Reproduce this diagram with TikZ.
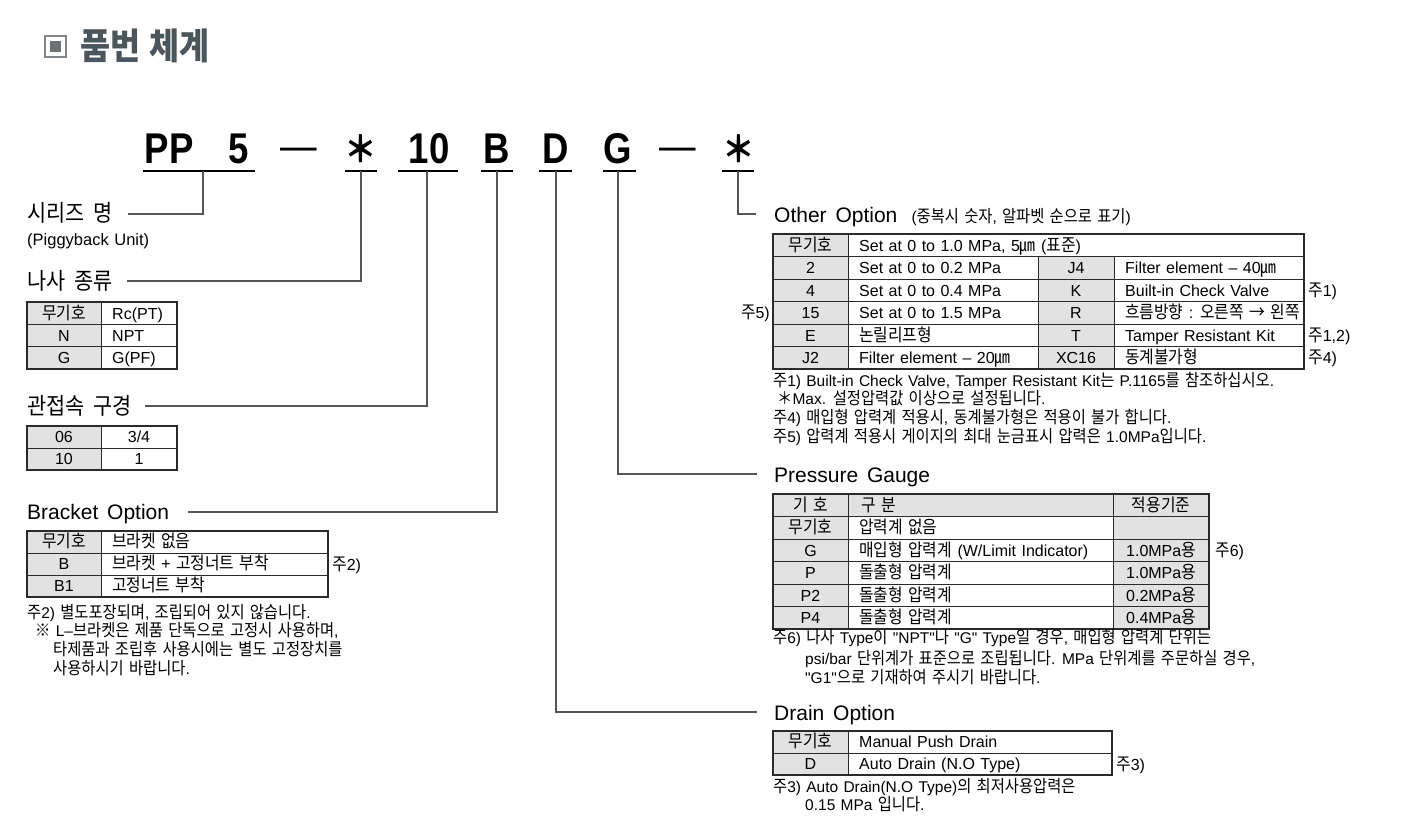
\documentclass[tikz,border=0pt]{standalone}
\usepackage{fontspec}
\setmainfont{Liberation Sans}[Ligatures=TeXOff]
\newfontfamily\lfont{Liberation Sans}[Ligatures=TeXOff]
\newfontfamily\krfont{Noto Sans CJK KR}[Scale=1.1,FakeStretch=0.9]
\newfontfamily\codefont{Liberation Sans}[FakeStretch=0.85]
% automatic switch to the Korean font for Hangul and a few symbols
\XeTeXinterchartokenstate=1
\newXeTeXintercharclass\KRclass
\newcount\krc
\krc="AC00
\loop \XeTeXcharclass\krc=\KRclass \advance\krc by 1 \ifnum\krc<"D7A4 \repeat
\XeTeXcharclass"339B=\KRclass
\XeTeXcharclass"203B=\KRclass
\XeTeXcharclass"2192=\KRclass
\XeTeXcharclass"FF0A=\KRclass
\def\krset#1{\ifnum#1=\KRclass\else
  \XeTeXinterchartoks #1 \KRclass={\krfont}\XeTeXinterchartoks \KRclass #1={\lfont}\fi}
\krset{0}\krset{1}\krset{2}\krset{3}\krset{4095}

% word spaces
\newcommand\spT{\spaceskip 0.34em\relax}
\newcommand\spL{\spaceskip 0.42em\relax}
\newcommand\spN{\spaceskip 0.34em\relax}

\definecolor{cg}{HTML}{E2E2E2}
\definecolor{tbl}{HTML}{2A2A2A}
\definecolor{linegray}{HTML}{555555}
\definecolor{titlegray}{HTML}{4B555C}
\definecolor{icongray}{HTML}{80868A}

\newcommand\cGC[6]{\node[cellg,minimum width={#4-#2},minimum height={#5-#3}] (#1) at ({(#2+#4)/2},{(#3+#5)/2}) {};
  \node[tt] (#1t) at (#1.center) {#6};}
\newcommand\cGL[6]{\node[cellg,minimum width={#4-#2},minimum height={#5-#3}] (#1) at ({(#2+#4)/2},{(#3+#5)/2}) {};
  \node[tt,anchor=west] (#1t) at ([xshift=13pt]#1.west) {#6};}
\newcommand\cWC[6]{\node[cellw,minimum width={#4-#2},minimum height={#5-#3}] (#1) at ({(#2+#4)/2},{(#3+#5)/2}) {};
  \node[tt] (#1t) at (#1.center) {#6};}
\newcommand\cWL[6]{\node[cellw,minimum width={#4-#2},minimum height={#5-#3}] (#1) at ({(#2+#4)/2},{(#3+#5)/2}) {};
  \node[tt,anchor=west] (#1t) at ([xshift=11pt]#1.west) {#6};}

\begin{document}
\begin{tikzpicture}[x=1pt,y=-1pt,
  conn/.style={draw=linegray,line width=1.2pt},
  uline/.style={draw=black,line width=1.3pt},
  cellg/.style={draw=tbl,line width=0.8pt,fill=cg,inner sep=0pt,outer sep=0pt},
  cellw/.style={draw=tbl,line width=0.8pt,fill=white,inner sep=0pt,outer sep=0pt},
  outerb/.style={draw=tbl,line width=1.4pt},
  tt/.style={inner sep=0pt,font=\fontsize{16}{18}\selectfont\spT,text height=11.5pt,text depth=0pt},
  lab/.style={inner sep=0pt,anchor=base west,font=\fontsize{21}{24}\selectfont\spL},
  note/.style={inner sep=0pt,anchor=base west,font=\fontsize{15.5}{18}\selectfont\spN},
  nmk/.style={inner sep=0pt,anchor=base west,font=\fontsize{16}{18}\selectfont},
  code/.style={inner sep=0pt,anchor=base,font=\fontsize{43}{48}\selectfont\codefont\bfseries},
  dashc/.style={inner sep=0pt,anchor=base,font=\fontsize{43}{48}\selectfont\codefont},
  starc/.style={inner sep=0pt,anchor=base,font=\fontsize{33}{40}\selectfont\bfseries}]
\useasboundingbox[fill=white] (0,0) rectangle (1412,830);

% ---------- title ----------
\node[draw=icongray,line width=1.5pt,fill=white,minimum size=21pt,inner sep=0pt] (icon) at (55.5,46.5) {};
\node[fill=icongray!85!black,minimum size=11pt,inner sep=0pt] (iconin) at (icon.center) {};
\node[inner sep=0pt,anchor=base west,font=\fontsize{33}{36}\selectfont\bfseries,text=titlegray] (title) at (80,59) {품번 체계};

% ---------- code row ----------
\node[code] (cPP) at (169,163) {PP};
\node[code] (c5) at (239,163) {5};
\node[dashc] (cDa) at (299,160) {—};
\node[starc] (cS1) at (361,162) {＊};
\node[code] (c10) at (429,163) {10};
\node[code] (cB) at (497,163) {B};
\node[code] (cD) at (556,163) {D};
\node[code] (cG) at (618,163) {G};
\node[dashc] (cDb) at (678,160) {—};
\node[starc] (cS2) at (739,162) {＊};

\coordinate (uPPa) at (143,171); \coordinate (uPPb) at (255,171);
\coordinate (uS1a) at (345,171); \coordinate (uS1b) at (377,171);
\coordinate (u10a) at (398,171); \coordinate (u10b) at (458,171);
\coordinate (uBa) at (481,171); \coordinate (uBb) at (513,171);
\coordinate (uDa) at (539,171); \coordinate (uDb) at (572,171);
\coordinate (uGa) at (603,171); \coordinate (uGb) at (636,171);
\coordinate (uS2a) at (722,171); \coordinate (uS2b) at (754,171);
\foreach \a/\b in {uPPa/uPPb,uS1a/uS1b,u10a/u10b,uBa/uBb,uDa/uDb,uGa/uGb,uS2a/uS2b}
  \draw[uline] (\a) -- (\b);

\coordinate (jPP) at (203,171);
\coordinate (jS1) at (361,171);
\coordinate (j10) at (427,171);
\coordinate (jB) at (497,171);
\coordinate (jD) at (556,171);
\coordinate (jG) at (618,171);
\coordinate (jS2) at (738,171);

% ---------- left labels ----------
\node[lab] (series) at (27,221) {시리즈 명};
\node[note,font=\fontsize{16.5}{19}\selectfont\spN] (piggy) at (27,245.5) {(Piggyback Unit)};
\node[lab] (thread) at (27,289) {나사 종류};
\node[lab] (port) at (27,414) {관접속 구경};
\node[lab] (bracket) at (27,519.5) {Bracket Option};

\coordinate (eSeries) at (128,214);
\coordinate (eThread) at (127,281);
\coordinate (ePort) at (145,406);
\coordinate (eBracket) at (188,512);
\draw[conn] (jPP) |- (eSeries);
\draw[conn] (jS1) |- (eThread);
\draw[conn] (j10) |- (ePort);
\draw[conn] (jB) |- (eBracket);

% ---------- right labels ----------
\node[lab] (other) at (774,222) {Other Option {\fontsize{15.5}{18}\selectfont\spN{} (중복시 숫자, 알파벳 순으로 표기)}};
\node[lab] (gauge) at (774,482) {Pressure Gauge};
\node[lab] (drain) at (774,720) {Drain Option};
\coordinate (eOther) at (756,214);
\coordinate (eGauge) at (757,474);
\coordinate (eDrain) at (757,712);
\draw[conn] (jS2) |- (eOther);
\draw[conn] (jG) |- (eGauge);
\draw[conn] (jD) |- (eDrain);

% ---------- table: thread ----------
\cGC{ta1}{27}{302}{101}{324.5}{무기호}
\cWL{ta2}{101}{302}{177}{324.5}{Rc(PT)}
\cGC{tb1}{27}{324.5}{101}{346.5}{N}
\cWL{tb2}{101}{324.5}{177}{346.5}{NPT}
\cGC{tc1}{27}{346.5}{101}{369}{G}
\cWL{tc2}{101}{346.5}{177}{369}{G(PF)}
\draw[outerb] (27,302) rectangle (177,369);

% ---------- table: port size ----------
\cGC{pa1}{27}{426}{101}{448}{06}
\cWC{pa2}{101}{426}{177}{448}{3/4}
\cGC{pb1}{27}{448}{101}{470}{10}
\cWC{pb2}{101}{448}{177}{470}{1}
\draw[outerb] (27,426) rectangle (177,470);

% ---------- table: bracket ----------
\cGC{ba1}{27}{531}{101}{553}{무기호}
\cWL{ba2}{101}{531}{328}{553}{브라켓 없음}
\cGC{bb1}{27}{553}{101}{575}{B}
\cWL{bb2}{101}{553}{328}{575}{브라켓 + 고정너트 부착}
\cGC{bc1}{27}{575}{101}{597}{B1}
\cWL{bc2}{101}{575}{328}{597}{고정너트 부착}
\draw[outerb] (27,531) rectangle (328,597);
\node[nmk] (n2) at (332,570) {주2)};
\node[note] (bn1) at (27,618.5) {주2) 별도포장되며, 조립되어 있지 않습니다.};
\node[note] (bn2) at (35,636.5) {※ L–브라켓은 제품 단독으로 고정시 사용하며,};
\node[note] (bn3) at (53,655.5) {타제품과 조립후 사용시에는 별도 고정장치를};
\node[note] (bn4) at (53,674.5) {사용하시기 바랍니다.};

% ---------- table: other option ----------
\cGC{oa1}{773}{234}{848}{256.5}{무기호}
\cWL{oa2}{848}{234}{1304}{256.5}{Set at 0 to 1.0 MPa, 5㎛ (표준)}
\cGC{ob1}{773}{256.5}{848}{279}{2}
\cWL{ob2}{848}{256.5}{1038}{279}{Set at 0 to 0.2 MPa}
\cGC{ob3}{1038}{256.5}{1114}{279}{J4}
\cWL{ob4}{1114}{256.5}{1304}{279}{Filter element – 40㎛}
\cGC{oc1}{773}{279}{848}{301.5}{4}
\cWL{oc2}{848}{279}{1038}{301.5}{Set at 0 to 0.4 MPa}
\cGC{oc3}{1038}{279}{1114}{301.5}{K}
\cWL{oc4}{1114}{279}{1304}{301.5}{Built-in Check Valve}
\cGC{od1}{773}{301.5}{848}{324}{15}
\cWL{od2}{848}{301.5}{1038}{324}{Set at 0 to 1.5 MPa}
\cGC{od3}{1038}{301.5}{1114}{324}{R}
\cWL{od4}{1114}{301.5}{1304}{324}{흐름방향 : 오른쪽 → 왼쪽}
\cGC{oe1}{773}{324}{848}{346.5}{E}
\cWL{oe2}{848}{324}{1038}{346.5}{논릴리프형}
\cGC{oe3}{1038}{324}{1114}{346.5}{T}
\cWL{oe4}{1114}{324}{1304}{346.5}{Tamper Resistant Kit}
\cGC{of1}{773}{346.5}{848}{369}{J2}
\cWL{of2}{848}{346.5}{1038}{369}{Filter element – 20㎛}
\cGC{of3}{1038}{346.5}{1114}{369}{XC16}
\cWL{of4}{1114}{346.5}{1304}{369}{동계불가형}
\draw[outerb] (773,234) rectangle (1304,369);
\node[nmk] (m1) at (1308,296) {주1)};
\node[nmk] (m12) at (1308,341) {주1,2)};
\node[nmk] (m4) at (1308,363.5) {주4)};
\node[nmk,anchor=base east] (m5) at (770,318.5) {주5)};
\node[note] (on1) at (773,386.5) {주1) Built-in Check Valve, Tamper Resistant Kit는 P.1165를 참조하십시오.};
\node[note] (on2) at (777,404.5) {＊Max. 설정압력값 이상으로 설정됩니다.};
\node[note] (on3) at (773,423.5) {주4) 매입형 압력계 적용시, 동계불가형은 적용이 불가 합니다.};
\node[note] (on4) at (773,442.5) {주5) 압력계 적용시 게이지의 최대 눈금표시 압력은 1.0MPa입니다.};

% ---------- table: pressure gauge ----------
\cGC{ga1}{773}{494}{848}{516.5}{기 호}
\cGL{ga2}{848}{494}{1113}{516.5}{구 분}
\cGC{ga3}{1113}{494}{1209}{516.5}{적용기준}
\cGC{gb1}{773}{516.5}{848}{539}{무기호}
\cWL{gb2}{848}{516.5}{1113}{539}{압력계 없음}
\cGC{gb3}{1113}{516.5}{1209}{539}{}
\cGC{gc1}{773}{539}{848}{561.5}{G}
\cWL{gc2}{848}{539}{1113}{561.5}{매입형 압력계 (W/Limit Indicator)}
\cGC{gc3}{1113}{539}{1209}{561.5}{1.0MPa용}
\cGC{gd1}{773}{561.5}{848}{584}{P}
\cWL{gd2}{848}{561.5}{1113}{584}{돌출형 압력계}
\cGC{gd3}{1113}{561.5}{1209}{584}{1.0MPa용}
\cGC{ge1}{773}{584}{848}{606.5}{P2}
\cWL{ge2}{848}{584}{1113}{606.5}{돌출형 압력계}
\cGC{ge3}{1113}{584}{1209}{606.5}{0.2MPa용}
\cGC{gf1}{773}{606.5}{848}{629}{P4}
\cWL{gf2}{848}{606.5}{1113}{629}{돌출형 압력계}
\cGC{gf3}{1113}{606.5}{1209}{629}{0.4MPa용}
\draw[outerb] (773,494) rectangle (1209,629);
\node[nmk] (m6) at (1215,556) {주6)};
\node[note] (gn1) at (773,643.5) {주6) 나사 Type이 "NPT"나 "G" Type일 경우, 매입형 압력계 단위는};
\node[note] (gn2) at (805,664.5) {psi/bar 단위계가 표준으로 조립됩니다. MPa 단위계를 주문하실 경우,};
\node[note] (gn3) at (805,683.5) {"G1"으로 기재하여 주시기 바랍니다.};

% ---------- table: drain ----------
\cGC{da1}{773}{731}{848}{753}{무기호}
\cWL{da2}{848}{731}{1112}{753}{Manual Push Drain}
\cGC{db1}{773}{753}{848}{775}{D}
\cWL{db2}{848}{753}{1112}{775}{Auto Drain (N.O Type)}
\draw[outerb] (773,731) rectangle (1112,775);
\node[nmk] (m3) at (1116,770) {주3)};
\node[note] (dn1) at (773,792.5) {주3) Auto Drain(N.O Type)의 최저사용압력은};
\node[note] (dn2) at (805,810.5) {0.15 MPa 입니다.};
\end{tikzpicture}
\end{document}
